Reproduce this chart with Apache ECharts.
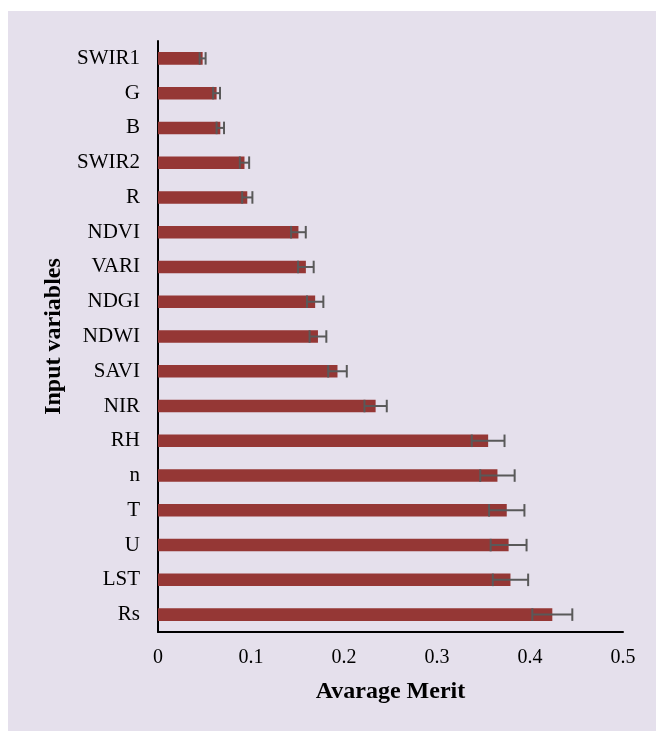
<!DOCTYPE html>
<html>
<head>
<meta charset="utf-8">
<script src="https://cdn.jsdelivr.net/npm/echarts@6/dist/echarts.min.js"></script>
<style>
  html, body { margin: 0; padding: 0; background: #fff; }
  #main { width: 656px; height: 731px; }
</style>
</head>
<body>
<div id="main"></div>
<script>
// bottom to top, as drawn on the category axis
const variables = ['Rs', 'LST', 'U', 'T', 'n', 'RH', 'NIR', 'SAVI', 'NDWI', 'NDGI', 'VARI', 'NDVI', 'R', 'SWIR2', 'B', 'G', 'SWIR1'];
const merit = [0.424, 0.379, 0.377, 0.375, 0.365, 0.355, 0.234, 0.193, 0.172, 0.169, 0.159, 0.151, 0.096, 0.093, 0.067, 0.063, 0.048];
const meritErr = [0.0215, 0.019, 0.0193, 0.019, 0.0185, 0.0176, 0.012, 0.010, 0.009, 0.0088, 0.0084, 0.0079, 0.0055, 0.005, 0.004, 0.0037, 0.0032];
const xTicks = [0, 0.1, 0.2, 0.3, 0.4, 0.5];

const errData = merit.map((v, i) => [i, v - meritErr[i], v + meritErr[i]]);

let myChart = echarts.init(document.getElementById('main'));
const serif = '"Liberation Serif", "Times New Roman", serif';

let option = {
  backgroundColor: '#fff',
  animation: false,
  graphic: [{
    type: 'rect',
    z: -10,
    shape: { x: 8, y: 11, width: 648, height: 720 },
    style: { fill: '#E5E0EC' }
  }],
  grid: { left: 158, right: 33, top: 41, bottom: 99 },
  xAxis: {
    type: 'value',
    min: 0,
    max: 0.5,
    interval: 0.1,
    name: 'Avarage Merit',
    nameLocation: 'middle',
    nameGap: 48,
    nameTextStyle: { fontFamily: serif, fontSize: 24, fontWeight: 'bold', color: '#000' },
    axisLine: { show: true, lineStyle: { color: '#000', width: 2 } },
    axisTick: { show: false },
    splitLine: { show: false },
    axisLabel: {
      fontFamily: serif, fontSize: 20, color: '#000', margin: 16,
      formatter: v => xTicks.includes(Math.round(v * 10) / 10) ? String(Math.round(v * 10) / 10) : ''
    }
  },
  yAxis: {
    type: 'category',
    data: variables,
    name: 'Input variables',
    nameLocation: 'middle',
    nameGap: 91,
    nameRotate: 90,
    nameTextStyle: { fontFamily: serif, fontSize: 24, fontWeight: 'bold', color: '#000' },
    axisLine: { show: true, lineStyle: { color: '#000', width: 2 } },
    axisTick: { show: false },
    axisLabel: { fontFamily: serif, fontSize: 21, color: '#000', margin: 18 }
  },
  series: [
    {
      type: 'bar',
      data: merit,
      barWidth: '36%',
      itemStyle: { color: '#953735' }
    },
    {
      type: 'custom',
      data: errData,
      z: 5,
      renderItem: function (params, api) {
        const i = api.value(0);
        const lo = api.coord([api.value(1), i]);
        const hi = api.coord([api.value(2), i]);
        const h = api.size([0, 1])[1] * 0.36 / 2;
        const style = { stroke: '#595959', lineWidth: 2 };
        return {
          type: 'group',
          children: [
            { type: 'line', shape: { x1: lo[0], y1: lo[1], x2: hi[0], y2: hi[1] }, style: style },
            { type: 'line', shape: { x1: lo[0], y1: lo[1] - h, x2: lo[0], y2: lo[1] + h }, style: style },
            { type: 'line', shape: { x1: hi[0], y1: hi[1] - h, x2: hi[0], y2: hi[1] + h }, style: style }
          ]
        };
      },
      encode: { x: [1, 2], y: 0 }
    }
  ]
};

myChart.setOption(option, true);
</script>
</body>
</html>
